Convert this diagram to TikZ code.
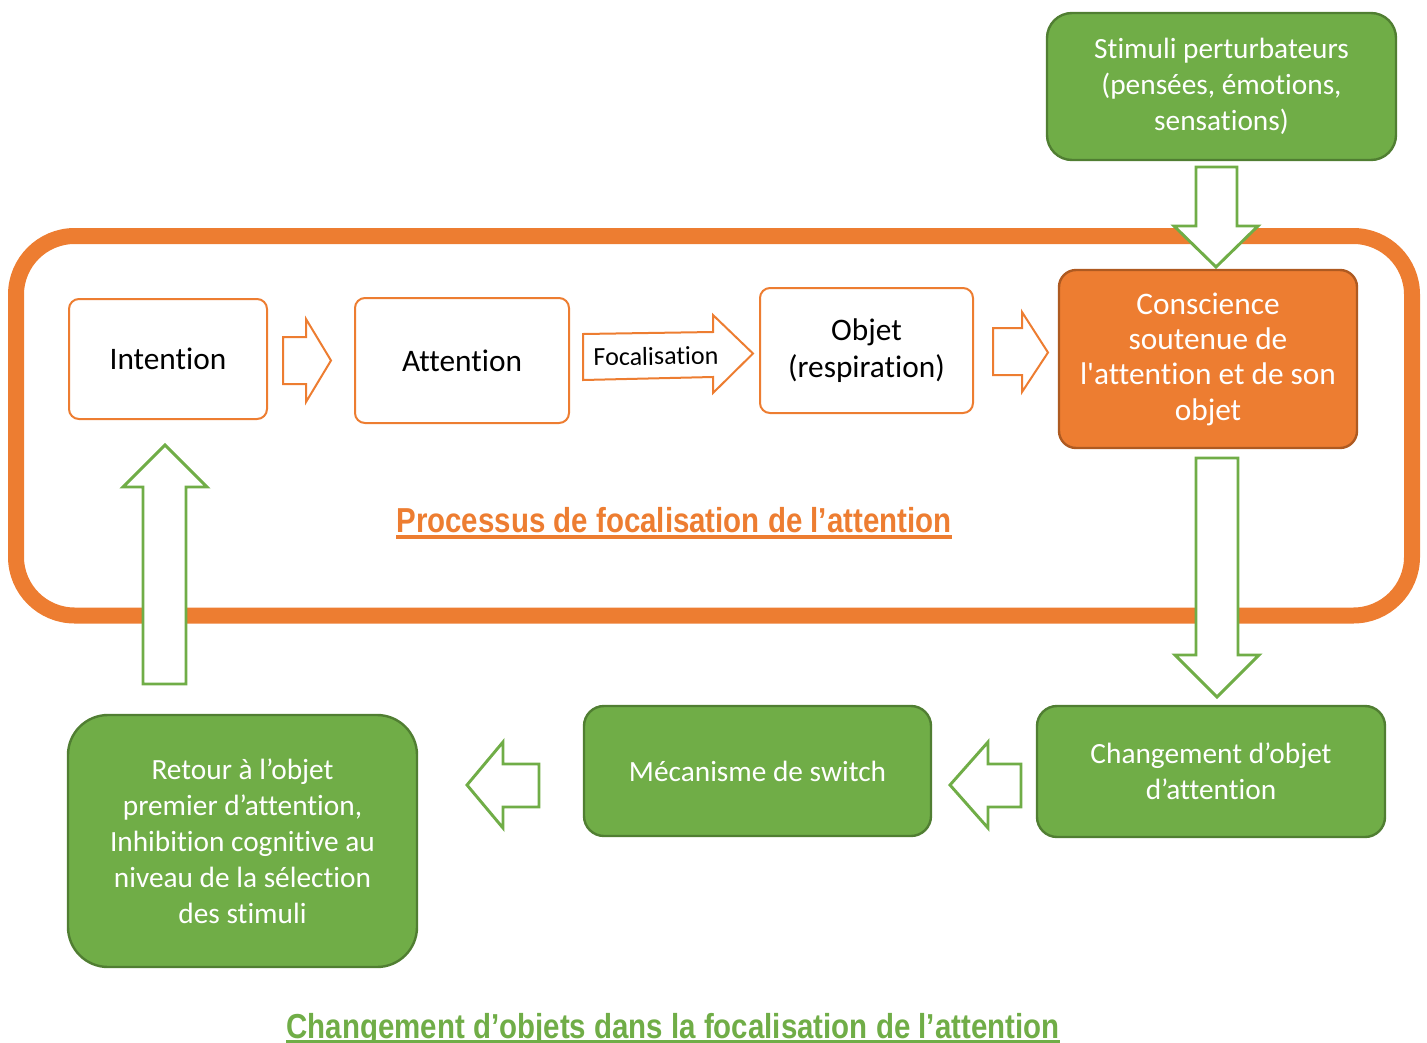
\documentclass[tikz,border=0pt]{standalone}
\usepackage{fontspec}
\setmainfont{Carlito}[Ligatures=TeXOff,RawFeature={-liga;-clig;-dlig;-calt}]
\newfontfamily\titlefont{Liberation Sans}[FakeStretch=0.85]
\definecolor{orangeC}{HTML}{ED7D31}
\definecolor{orangeD}{HTML}{AE5A21}
\definecolor{greenC}{HTML}{70AD47}
\definecolor{greenD}{HTML}{507E32}
\begin{document}
\begin{tikzpicture}[x=0.75pt,y=-0.75pt,
  frame/.style={draw=orangeC,line width=12pt,rounded corners=44pt},
  obox/.style={draw=orangeC,line width=1.5pt,fill=white,rounded corners=7.5pt,align=center,text=black,inner sep=0pt,
    font=\fontsize{23.5pt}{28pt}\selectfont},
  cbox/.style={draw=orangeD,line width=1.8pt,fill=orangeC,rounded corners=12.75pt,align=center,text=white,inner sep=0pt,
    font=\fontsize{23.5pt}{26.5pt}\selectfont},
  gbox/.style={draw=greenD,line width=1.8pt,fill=greenC,align=center,text=white,inner sep=0pt,
    font=\fontsize{22pt}{27pt}\selectfont},
  oarrow/.style={draw=orangeC,line width=1.5pt,fill=white,line join=miter},
  garrow/.style={draw=greenC,line width=2.2pt,fill=white,line join=miter},
  titletext/.style={inner sep=0pt,anchor=base,font=\titlefont\bfseries\fontsize{26pt}{30pt}\selectfont},
]
\useasboundingbox (0,0) rectangle (1427,1042);

% outer process frame
\draw[frame] (16,236) rectangle (1412,615.5);

% process boxes
\node[obox,minimum width=148.5pt,minimum height=90pt] (intention) at (168,359) {Intention};
\node[obox,minimum width=160.5pt,minimum height=93.75pt] (attention) at (462,360.5) {Attention};
\node[obox,minimum width=159.75pt,minimum height=93.75pt] (objet) at (866.5,350.5) {Objet\\(respiration)};
\node[cbox,minimum width=223.5pt,minimum height=133.5pt] (conscience) at (1208,359) {Conscience\\soutenue de\\l'attention et de son\\objet};

% green boxes
\node[gbox,rounded corners=18.75pt,minimum width=261.75pt,minimum height=110.25pt] (stimuli) at (1221.5,86.5) {\raisebox{-3pt}{\parbox{250pt}{\centering Stimuli perturbateurs\\(pensées, émotions,\\sensations)}}};
\node[gbox,rounded corners=15pt,minimum width=261pt,minimum height=98.25pt] (changement) at (1211,771.5) {Changement d’objet\\d’attention};
\node[gbox,rounded corners=15pt,minimum width=260.25pt,minimum height=97.5pt] (switch) at (757.5,771) {Mécanisme de switch};
\node[gbox,rounded corners=30pt,minimum width=261.75pt,minimum height=189pt] (retour) at (242.5,841) {Retour à l’objet\\premier d’attention,\\Inhibition cognitive au\\niveau de la sélection\\des stimuli};

% orange block arrows
\draw[oarrow] (283,337) -- (306,337) -- (306,319) -- (331,360.5) -- (306,402) -- (306,384) -- (283,384) -- cycle;
\draw[oarrow] (583,334) -- (713,332) -- (713,315) -- (753,353.5) -- (713,393) -- (713,377) -- (583,380) -- cycle;
\node[inner sep=0pt,rotate=0.9,font=\fontsize{19.5pt}{23pt}\selectfont] (focal) at (656,356) {Focalisation};
\draw[oarrow] (993,328) -- (1022,328) -- (1022,312) -- (1048,352.5) -- (1022,392) -- (1022,375) -- (993,375) -- cycle;

% green block arrows
\draw[garrow] (1196,167) -- (1237,167) -- (1237,226) -- (1258,226) -- (1216,267) -- (1174,226) -- (1196,226) -- cycle;
\draw[garrow] (1196,458) -- (1238,458) -- (1238,655) -- (1259,655) -- (1217,697) -- (1175,655) -- (1196,655) -- cycle;
\draw[garrow] (1021,764) -- (1021,807) -- (988,807) -- (988,828) -- (950,785) -- (988,742) -- (988,764) -- cycle;
\draw[garrow] (539,764) -- (539,807) -- (503,807) -- (503,828) -- (467,785) -- (503,742) -- (503,764) -- cycle;
\draw[garrow] (143,684) -- (143,487) -- (123,487) -- (165,445) -- (207,487) -- (186,487) -- (186,684) -- cycle;

% titles
\node[titletext,text=orangeC] (title1) at (674,532) {Processus de focalisation de l’attention};
\draw[orangeC,line width=3pt] ([yshift=-3.6pt]title1.base west) -- ([yshift=-3.6pt]title1.base east);
\node[titletext,text=greenC] (title2) at (673,1038) {Changement d’objets dans la focalisation de l’attention};
\draw[greenC,line width=2.5pt] ([yshift=-2.4pt]title2.base west) -- ([yshift=-2.4pt]title2.base east);
\end{tikzpicture}
\end{document}
